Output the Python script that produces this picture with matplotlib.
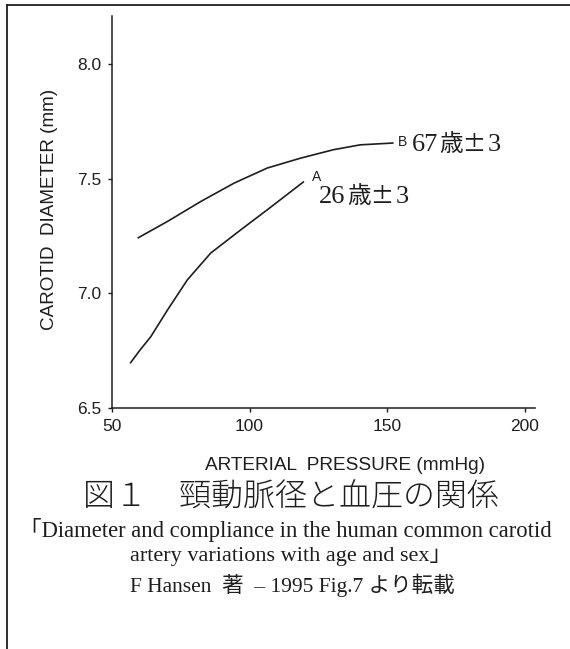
import numpy as np
import matplotlib
matplotlib.use('Agg')
import matplotlib.pyplot as plt
from matplotlib.lines import Line2D
from matplotlib.offsetbox import TextArea, HPacker, AnnotationBbox

# curve A (26 years) and B (67 years)
pressure_a = [56.6, 60.0, 64.1, 70.2, 77.4, 85.9, 96.8, 106.5, 119.8]
diameter_a = [6.695, 6.750, 6.811, 6.928, 7.059, 7.176, 7.277, 7.365, 7.488]
pressure_b = [59.3, 70.2, 82.3, 94.4, 106.5, 118.6, 130.6, 140.3, 152.4]
diameter_b = [7.241, 7.314, 7.401, 7.481, 7.547, 7.590, 7.627, 7.648, 7.656]

x_ticks = [50, 100, 150, 200]
y_ticks = [6.5, 7.0, 7.5, 8.0]

# age labels split into (latin, cjk, latin) pieces
label_a = ("26", "歳±", "3")
label_b = ("67", "歳±", "3")

W, H = 570, 649
fig = plt.figure(figsize=(W / 100, H / 100), dpi=100)
fig.patch.set_facecolor('white')

serif_jp = ['Liberation Serif', 'Noto Sans CJK JP']
ink = '#1e1e1e'

ax = fig.add_axes([112 / W, 1 - 408 / H, 423 / W, 392 / H])
ax.plot(pressure_a, diameter_a, color=ink, lw=1.2, solid_capstyle='butt')
ax.plot(pressure_b, diameter_b, color=ink, lw=1.2, solid_capstyle='butt')
ax.set_xlim(50, 203.8)
ax.set_ylim(6.5, 8.21)

for s in ['top', 'right']:
    ax.spines[s].set_visible(False)
for s in ['left', 'bottom']:
    ax.spines[s].set_linewidth(1.1)
    ax.spines[s].set_color(ink)

ax.set_xticks(x_ticks)
ax.set_yticks(y_ticks)
ax.set_xticklabels([str(v) for v in x_ticks])
ax.set_yticklabels(['%.1f' % v for v in y_ticks])
ax.tick_params(axis='both', direction='out', length=3, width=1, color=ink,
               labelsize=12.5, labelcolor=ink)
ax.tick_params(axis='x', pad=5)
ax.tick_params(axis='y', pad=5)
for t in ax.get_xticklabels() + ax.get_yticklabels():
    t.set_family('Liberation Sans')


def age_label(parts, xy):
    a, b, c = parts
    boxes = [TextArea(a, textprops=dict(fontsize=19, family='Liberation Serif', color=ink)),
             TextArea(b, textprops=dict(fontsize=17, family='Noto Sans CJK JP', color=ink)),
             TextArea(c, textprops=dict(fontsize=19, family='Liberation Serif', color=ink))]
    pack = HPacker(children=boxes, align='baseline', pad=0, sep=1)
    ab = AnnotationBbox(pack, xy, xycoords='data', box_alignment=(0, 0.5), frameon=False, pad=0)
    ax.add_artist(ab)


# curve tags
ax.text(pressure_b[-1] + 1.5, diameter_b[-1] + 0.005, 'B', fontsize=10, family='Liberation Sans',
        color=ink, ha='left', va='center')
age_label(label_b, (pressure_b[-1] + 6.5, diameter_b[-1] - 0.005))
ax.text(pressure_a[-1] + 3.0, diameter_a[-1] + 0.02, 'A', fontsize=10, family='Liberation Sans',
        color=ink, ha='left', va='center')
age_label(label_a, (pressure_a[-1] + 5.5, diameter_a[-1] - 0.065))

# axis titles
fig.text(50 / W, 1 - 209 / H, 'CAROTID  DIAMETER (mm)', rotation=90, ha='center', va='center',
         fontsize=13.6, family='Liberation Sans', color=ink)
fig.text(345 / W, 1 - 465 / H, 'ARTERIAL  PRESSURE (mmHg)', ha='center', va='center',
         fontsize=13.7, family='Liberation Sans', color=ink)

# caption
fig.text(291 / W, 1 - 497 / H, '図１　頸動脈径と血圧の関係', ha='center', va='center',
         fontsize=23, family=['Noto Sans CJK JP'], fontweight='light', color=ink)
fig.text(285 / W, 1 - 530 / H, '「Diameter and compliance in the human common carotid',
         ha='center', va='center', fontsize=16.3, family=serif_jp, color=ink)
fig.text(291 / W, 1 - 557 / H, 'artery variations with age and sex」',
         ha='center', va='center', fontsize=16, family=serif_jp, color=ink)
fig.text(292 / W, 1 - 585 / H, 'F Hansen  著  – 1995 Fig.7 より転載',
         ha='center', va='center', fontsize=15.5, family=serif_jp, color=ink)

# frame (left and top edges)
fig.add_artist(Line2D([7 / W, 7 / W], [0, 1 - 5 / H], transform=fig.transFigure,
                      color=ink, lw=1.3))
fig.add_artist(Line2D([7 / W, 1], [1 - 5 / H, 1 - 5 / H], transform=fig.transFigure,
                      color=ink, lw=1.3))

fig.savefig('out.png', dpi=100)
